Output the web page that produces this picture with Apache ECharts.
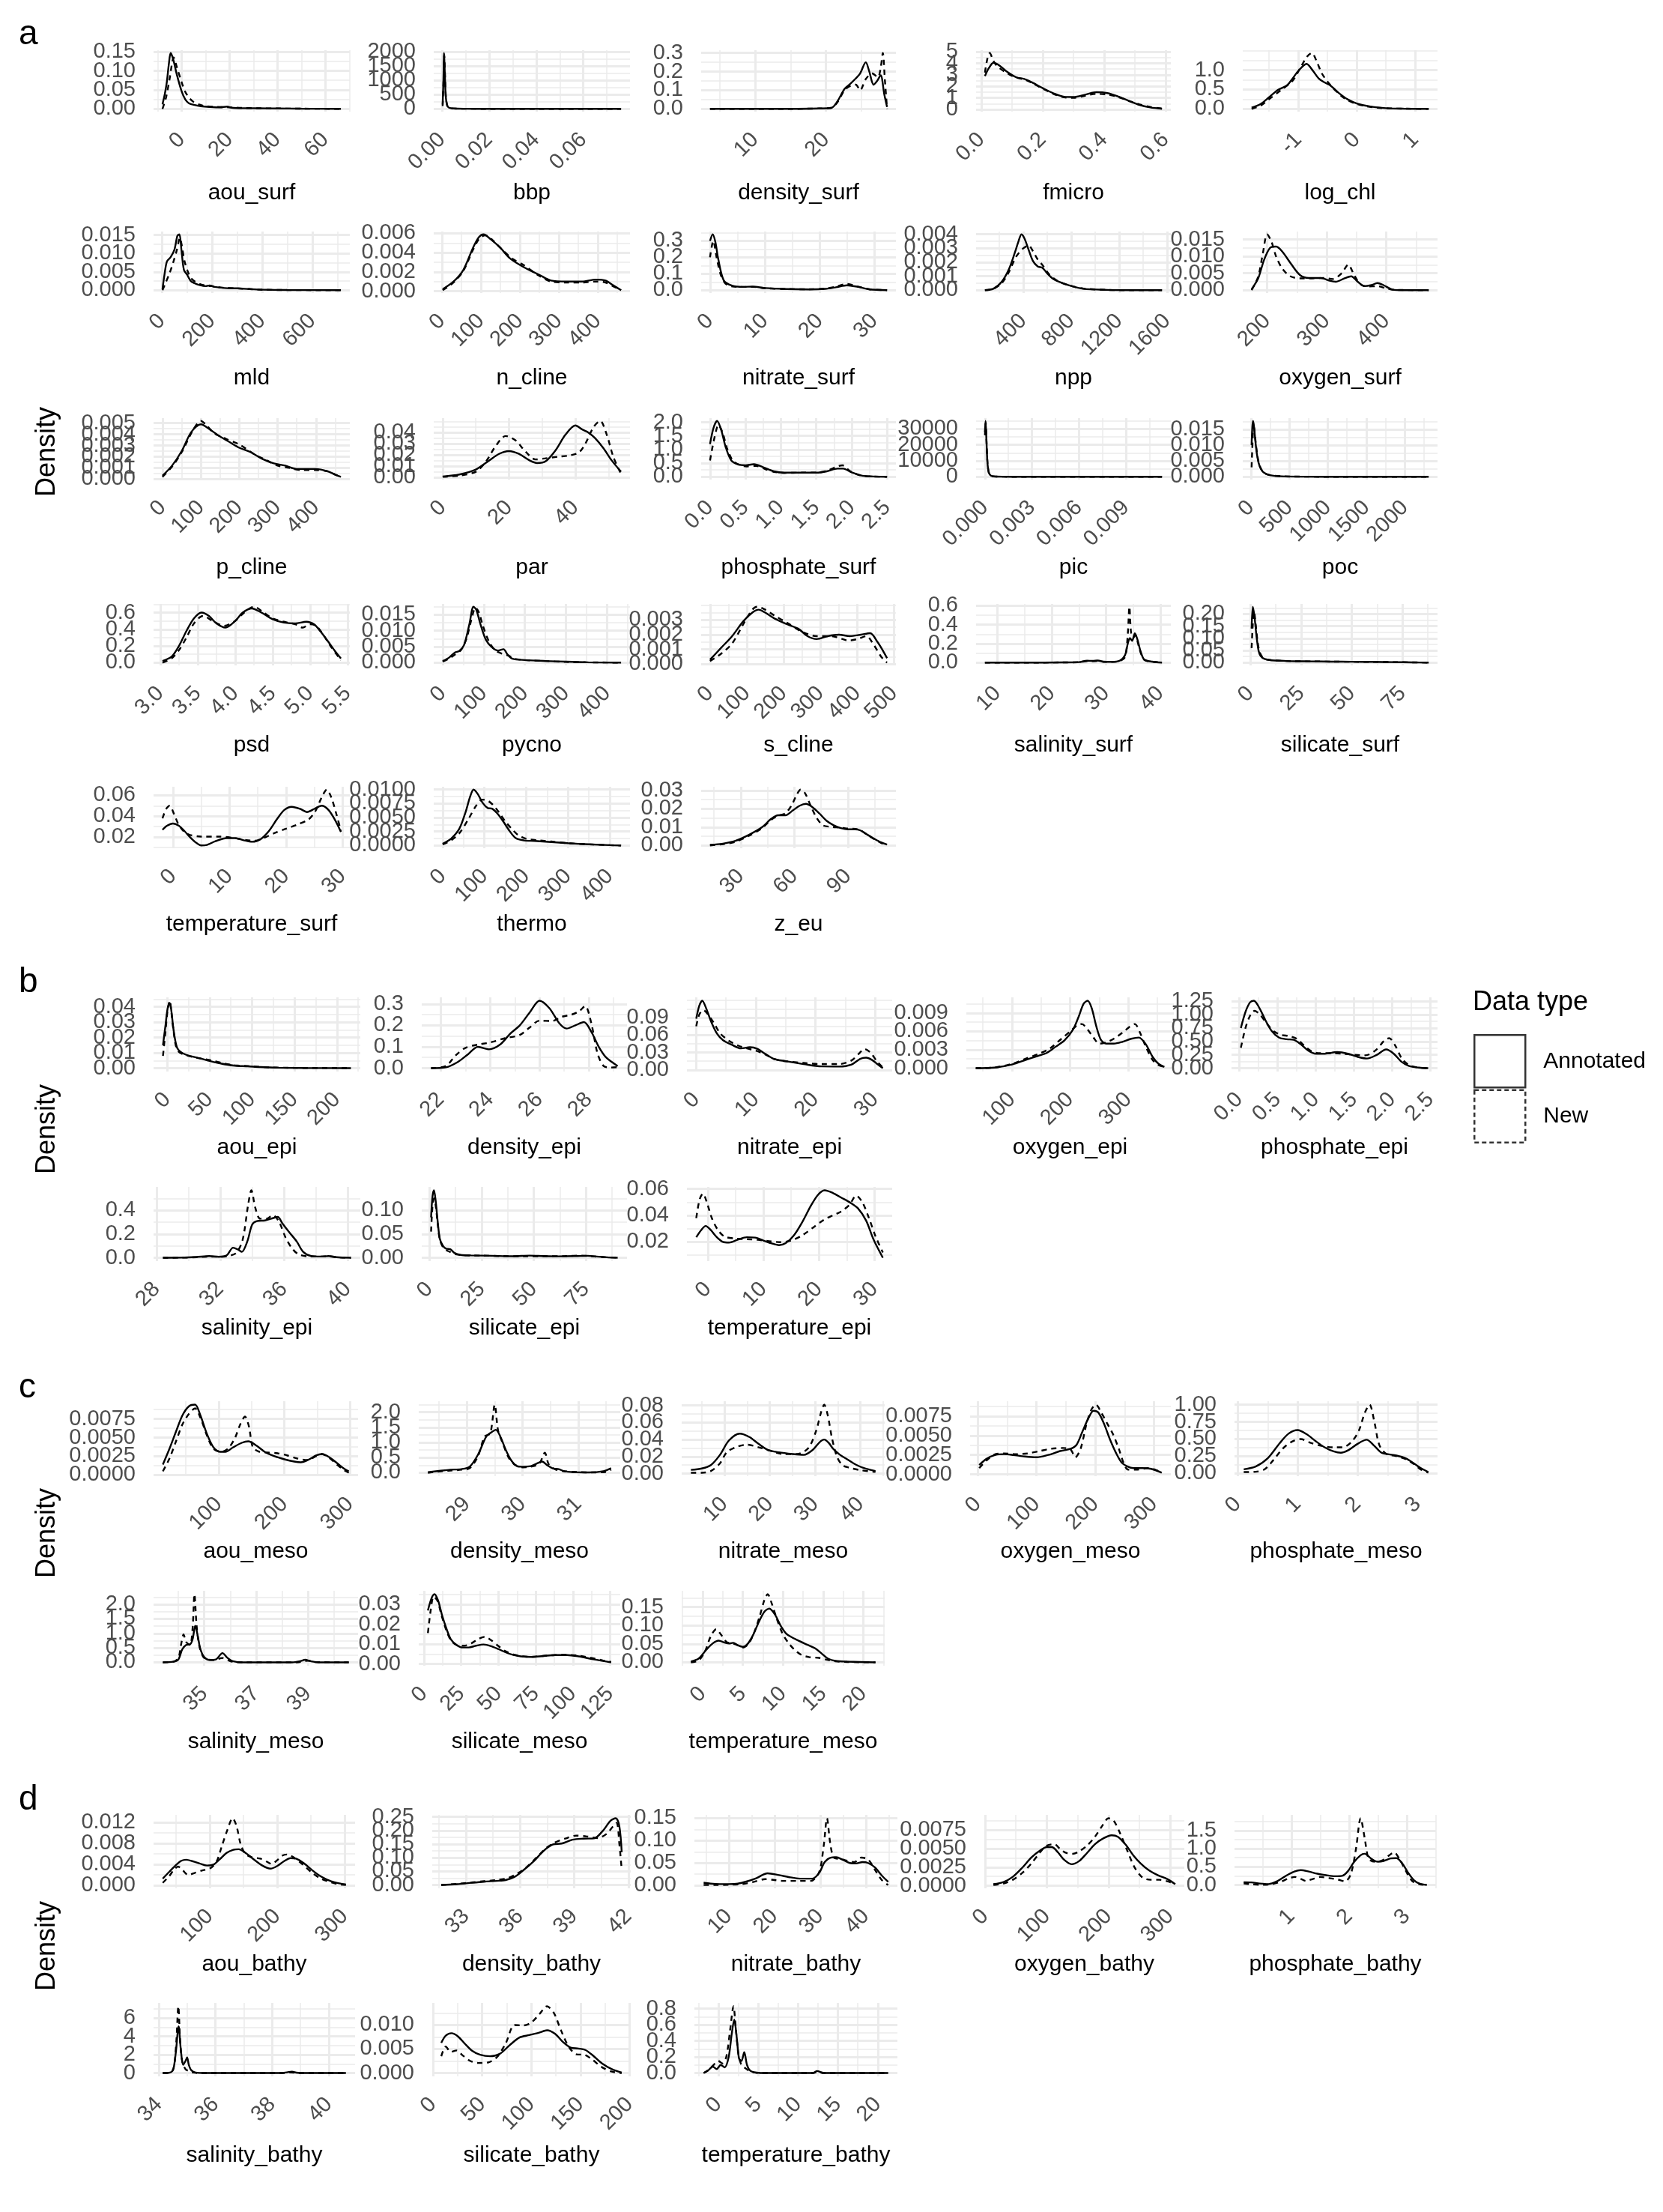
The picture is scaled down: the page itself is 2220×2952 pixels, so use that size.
<!DOCTYPE html>
<html>
<head>
<meta charset="utf-8">
<script src="https://cdn.jsdelivr.net/npm/echarts@6/dist/echarts.min.js"></script>
<style>
html,body{margin:0;padding:0;background:#ffffff;}
#chart{width:2220px;height:2952px;}
</style>
</head>
<body>
<div id="chart"></div>
<script>
// ---------------- DATA ----------------
const sectionA_vars = ['aou_surf','bbp','density_surf','fmicro','log_chl','mld','n_cline','nitrate_surf','npp','oxygen_surf','p_cline','par','phosphate_surf','pic','poc','psd','pycno','s_cline','salinity_surf','silicate_surf','temperature_surf','thermo','z_eu'];
const sectionB_vars = ['aou_epi','density_epi','nitrate_epi','oxygen_epi','phosphate_epi','salinity_epi','silicate_epi','temperature_epi'];
const sectionC_vars = ['aou_meso','density_meso','nitrate_meso','oxygen_meso','phosphate_meso','salinity_meso','silicate_meso','temperature_meso'];
const sectionD_vars = ['aou_bathy','density_bathy','nitrate_bathy','oxygen_bathy','phosphate_bathy','salinity_bathy','silicate_bathy','temperature_bathy'];
const seriesNames = ['Annotated','New'];

const aou_surf_annotated = [[-8,0.012],[-7,0.04],[-6.2,0.07],[-5.3,0.12],[-4.6,0.147],[-3.5,0.13],[-2,0.09],[0,0.046],[1.5,0.025],[3,0.015],[5.5,0.01],[8,0.007],[12,0.005],[16,0.004],[19,0.006],[21,0.003],[25,0.002],[32,0.0015],[40,0.001],[50,0.0005],[66.5,0.0001]];
const aou_surf_new = [[-8,0.0],[-6.5,0.03],[-5,0.08],[-3.3,0.135],[-2,0.11],[0,0.07],[1.5,0.045],[3,0.03],[5,0.018],[7,0.012],[10,0.007],[15,0.005],[20,0.004],[25,0.0025],[32,0.0015],[40,0.001],[50,0.0005],[66.5,0.0]];
const aou_surf_xticks = ['0','20','40','60'];
const aou_surf_yticks = ['0.00','0.05','0.10','0.15'];

const bbp_annotated = [[0.0003,150],[0.0006,900],[0.0009,1950],[0.0012,1300],[0.0016,450],[0.0022,120],[0.003,40],[0.005,12],[0.01,4],[0.02,2],[0.04,1],[0.06,0.5],[0.076,0]];
const bbp_new = [[0.0003,100],[0.0006,800],[0.001,1880],[0.0013,1200],[0.0017,400],[0.0023,100],[0.003,35],[0.005,10],[0.01,4],[0.02,2],[0.04,1],[0.06,0.5],[0.076,0]];
const bbp_xticks = ['0.00','0.02','0.04','0.06'];
const bbp_yticks = ['0','500','1000','1500','2000'];

const density_surf_annotated = [[3.66,0.0],[15,0.0],[19,0.002],[20.75,0.005],[21.6,0.04],[22.6,0.107],[23.3,0.13],[24.1,0.16],[24.8,0.19],[25.6,0.25],[26.1,0.2],[26.7,0.13],[27.2,0.15],[27.7,0.18],[28.2,0.08],[28.6,0.01]];
const density_surf_new = [[3.66,0.0],[15,0.0],[19,0.002],[20.75,0.005],[21.6,0.035],[22.6,0.1],[23.5,0.125],[24.2,0.13],[24.8,0.1],[25.6,0.16],[26.5,0.19],[27.3,0.17],[27.7,0.22],[28.0,0.3],[28.3,0.15],[28.6,0.0]];
const density_surf_xticks = ['10','20'];
const density_surf_yticks = ['0.0','0.1','0.2','0.3'];

const fmicro_annotated = [[0.012,2.9],[0.025,3.6],[0.04,4.05],[0.06,3.8],[0.085,3.25],[0.113,2.8],[0.14,2.65],[0.165,2.35],[0.2,1.85],[0.235,1.4],[0.27,1.1],[0.3,1.08],[0.34,1.3],[0.375,1.5],[0.41,1.42],[0.443,1.15],[0.48,0.75],[0.513,0.4],[0.55,0.17],[0.588,0.05]];
const fmicro_new = [[0.012,3.2],[0.02,4.4],[0.028,4.9],[0.038,4.3],[0.05,3.8],[0.075,3.3],[0.11,2.8],[0.14,2.6],[0.165,2.3],[0.2,1.8],[0.235,1.35],[0.27,1.05],[0.3,1.0],[0.34,1.2],[0.375,1.35],[0.41,1.3],[0.443,1.1],[0.48,0.75],[0.513,0.45],[0.55,0.22],[0.588,0.08]];
const fmicro_xticks = ['0.0','0.2','0.4','0.6'];
const fmicro_yticks = ['0','1','2','3','4','5'];

const log_chl_annotated = [[-1.8,0.03],[-1.65,0.12],[-1.5,0.3],[-1.35,0.49],[-1.2,0.6],[-1.1,0.78],[-1.0,0.98],[-0.86,1.16],[-0.75,0.98],[-0.65,0.78],[-0.55,0.68],[-0.45,0.6],[-0.3,0.4],[-0.15,0.24],[0,0.14],[0.25,0.055],[0.5,0.018],[0.8,0.004],[1.23,0.0]];
const log_chl_new = [[-1.8,0.0],[-1.65,0.08],[-1.5,0.25],[-1.3,0.48],[-1.1,0.72],[-0.95,1.1],[-0.85,1.35],[-0.77,1.44],[-0.68,1.2],[-0.6,0.92],[-0.5,0.7],[-0.35,0.45],[-0.2,0.26],[-0.05,0.15],[0.15,0.07],[0.35,0.03],[0.6,0.01],[1.23,0.0]];
const log_chl_xticks = ['-1','0','1'];
const log_chl_yticks = ['0.0','0.5','1.0'];

const mld_annotated = [[2.5,0.0003],[10,0.004],[20,0.0078],[35,0.009],[50,0.011],[62,0.0148],[70,0.0152],[78,0.011],[88,0.0055],[100,0.0043],[115,0.0025],[130,0.0019],[150,0.0014],[175,0.0011],[190,0.0013],[210,0.0009],[250,0.0006],[300,0.0005],[350,0.0003],[400,0.00015],[500,0.00005],[714,0.0]];
const mld_new = [[2.5,0.0],[15,0.002],[30,0.0045],[45,0.0075],[60,0.011],[72,0.0142],[80,0.012],[90,0.008],[105,0.0048],[120,0.003],[150,0.0017],[180,0.0012],[200,0.0011],[240,0.0007],[300,0.0005],[350,0.0003],[400,0.00012],[500,0.00004],[714,0.0]];
const mld_xticks = ['0','200','400','600'];
const mld_yticks = ['0.000','0.005','0.010','0.015'];

const n_cline_annotated = [[2,0.0002],[30,0.001],[55,0.0022],[80,0.0045],[95,0.0056],[107,0.0059],[125,0.0054],[150,0.0045],[175,0.0034],[210,0.0025],[250,0.0017],[280,0.0011],[320,0.001],[360,0.001],[395,0.0012],[420,0.0011],[440,0.0006],[460,0.0001]];
const n_cline_new = [[2,0.0001],[30,0.0009],[55,0.0021],[80,0.0043],[97,0.0055],[112,0.0058],[130,0.0053],[155,0.0043],[180,0.0034],[210,0.0027],[250,0.0016],[280,0.001],[320,0.0009],[360,0.0009],[395,0.001],[420,0.0009],[440,0.0005],[460,0.0001]];
const n_cline_xticks = ['0','100','200','300','400'];
const n_cline_yticks = ['0.000','0.002','0.004','0.006'];

const nitrate_surf_annotated = [[0,0.3],[0.5,0.34],[1,0.29],[1.5,0.19],[2.5,0.06],[4,0.028],[6,0.02],[7.8,0.022],[10,0.013],[14,0.007],[18,0.005],[21,0.008],[23,0.018],[25,0.03],[27,0.02],[29,0.006],[32.3,0.0]];
const nitrate_surf_new = [[0,0.2],[0.6,0.3],[1.2,0.2],[2,0.09],[3,0.035],[5,0.02],[7.8,0.02],[10,0.012],[14,0.007],[18,0.006],[21,0.01],[23,0.022],[25,0.038],[27,0.022],[29,0.006],[32.3,0.0]];
const nitrate_surf_xticks = ['0','10','20','30'];
const nitrate_surf_yticks = ['0.0','0.1','0.2','0.3'];

const npp_annotated = [[80,0.0],[150,0.0001],[220,0.0006],[280,0.0015],[330,0.0027],[360,0.0035],[385,0.004],[410,0.0037],[440,0.003],[480,0.0021],[520,0.0017],[560,0.0016],[600,0.0012],[650,0.0008],[700,0.0006],[800,0.0003],[900,0.0001],[1100,0.00002],[1300,0.0],[1557,0.0]];
const npp_new = [[80,0.0],[150,0.0001],[220,0.0005],[280,0.0013],[340,0.0024],[400,0.003],[444,0.0032],[480,0.0028],[520,0.0022],[560,0.0018],[620,0.0011],[700,0.0006],[800,0.0003],[900,0.00012],[1100,0.00002],[1300,0.0],[1557,0.0]];
const npp_xticks = ['400','800','1200','1600'];
const npp_yticks = ['0.000','0.001','0.002','0.003','0.004'];

const oxygen_surf_annotated = [[174,0.0003],[185,0.0035],[195,0.009],[205,0.0125],[215,0.0129],[225,0.0115],[240,0.0078],[255,0.0045],[270,0.0036],[290,0.0036],[305,0.0028],[315,0.0025],[330,0.0035],[341,0.0041],[352,0.0025],[363,0.0012],[375,0.0015],[385,0.0021],[395,0.0015],[410,0.0002],[430,0.0],[471,0.0]];
const oxygen_surf_new = [[174,0.0],[185,0.004],[193,0.011],[200,0.0165],[207,0.0145],[215,0.01],[225,0.0065],[238,0.0042],[255,0.0035],[275,0.0035],[295,0.0036],[310,0.0033],[325,0.005],[336,0.0075],[346,0.0045],[356,0.0018],[368,0.0011],[385,0.0012],[400,0.0005],[415,0.0001],[471,0.0]];
const oxygen_surf_xticks = ['200','300','400'];
const oxygen_surf_yticks = ['0.000','0.005','0.010','0.015'];

const p_cline_annotated = [[0,0.0003],[25,0.0012],[50,0.0025],[75,0.0042],[100,0.0049],[125,0.0044],[150,0.0038],[175,0.0033],[200,0.0028],[230,0.0024],[260,0.0018],[290,0.0014],[320,0.0012],[350,0.0009],[380,0.0009],[400,0.0009],[430,0.0007],[450,0.0004],[465,0.0002]];
const p_cline_new = [[0,0.0002],[25,0.0011],[50,0.0024],[80,0.0044],[100,0.0052],[112,0.0049],[135,0.0041],[165,0.0036],[200,0.0031],[240,0.0022],[270,0.0017],[300,0.0012],[330,0.001],[360,0.0008],[400,0.0008],[430,0.0007],[450,0.0004],[465,0.0002]];
const p_cline_xticks = ['0','100','200','300','400'];
const p_cline_yticks = ['0.000','0.001','0.002','0.003','0.004','0.005'];

const par_annotated = [[0,0.0008],[5,0.0025],[10,0.007],[14,0.015],[17,0.021],[20,0.0235],[23,0.021],[26,0.0155],[28.5,0.0128],[31,0.0142],[34,0.024],[37,0.038],[40,0.0465],[42,0.043],[44,0.04],[46,0.035],[48.5,0.026],[51,0.015],[53.8,0.005]];
const par_new = [[0,0.0005],[5,0.0015],[10,0.005],[13,0.014],[16,0.028],[19,0.037],[22,0.033],[25,0.023],[28,0.016],[31,0.017],[35,0.0185],[38,0.0195],[41,0.022],[43,0.03],[45.5,0.045],[47.5,0.0505],[49.5,0.038],[51.5,0.018],[53.8,0.003]];
const par_xticks = ['0','20','40'];
const par_yticks = ['0.00','0.01','0.02','0.03','0.04'];

const phosphate_surf_annotated = [[0.0,1.2],[0.05,1.8],[0.1,2.05],[0.16,1.7],[0.22,1.1],[0.3,0.6],[0.4,0.45],[0.5,0.42],[0.62,0.46],[0.75,0.35],[0.9,0.2],[1.05,0.15],[1.3,0.15],[1.5,0.15],[1.65,0.2],[1.8,0.3],[1.88,0.3],[2.0,0.16],[2.15,0.04],[2.3,0.01],[2.5,0.0]];
const phosphate_surf_new = [[0.0,0.6],[0.06,1.4],[0.12,1.9],[0.18,1.6],[0.24,1.05],[0.32,0.6],[0.42,0.43],[0.52,0.38],[0.65,0.4],[0.78,0.28],[0.9,0.18],[1.05,0.14],[1.3,0.15],[1.5,0.15],[1.65,0.22],[1.8,0.38],[1.87,0.42],[1.97,0.22],[2.12,0.05],[2.3,0.01],[2.5,0.0]];
const phosphate_surf_xticks = ['0.0','0.5','1.0','1.5','2.0','2.5'];
const phosphate_surf_yticks = ['0.0','0.5','1.0','1.5','2.0'];

const pic_annotated = [[0.0,28000],[0.00004,35000],[0.0001,22000],[0.00016,9000],[0.00025,2500],[0.0004,600],[0.0007,150],[0.0012,60],[0.002,30],[0.004,10],[0.008,3],[0.0113,0]];
const pic_new = [[0.0,26000],[0.00005,34000],[0.00011,20000],[0.00017,8000],[0.00026,2200],[0.0004,550],[0.0007,140],[0.0012,55],[0.002,28],[0.004,10],[0.008,3],[0.0113,0]];
const pic_xticks = ['0.000','0.003','0.006','0.009'];
const pic_yticks = ['0','10000','20000','30000'];

const poc_annotated = [[10,0.01],[20,0.016],[30,0.0177],[45,0.015],[60,0.011],[80,0.007],[100,0.0045],[130,0.0025],[170,0.0013],[250,0.0005],[400,0.00015],[700,0.00004],[1200,0.00001],[2310,0.0]];
const poc_new = [[10,0.003],[22,0.011],[35,0.017],[50,0.014],[65,0.0105],[85,0.0068],[105,0.0043],[135,0.0024],[175,0.0012],[250,0.0005],[400,0.00015],[700,0.00004],[1200,0.00001],[2310,0.0]];
const poc_xticks = ['0','500','1000','1500','2000'];
const poc_yticks = ['0.000','0.005','0.010','0.015'];

const psd_annotated = [[3.03,0.02],[3.15,0.07],[3.25,0.2],[3.35,0.38],[3.45,0.53],[3.55,0.6],[3.65,0.56],[3.75,0.47],[3.87,0.42],[4.0,0.5],[4.1,0.6],[4.22,0.65],[4.35,0.6],[4.5,0.52],[4.65,0.48],[4.8,0.47],[4.95,0.49],[5.05,0.46],[5.15,0.36],[5.25,0.24],[5.33,0.14],[5.41,0.05]];
const psd_new = [[3.03,0.0],[3.15,0.05],[3.25,0.15],[3.35,0.3],[3.45,0.47],[3.57,0.56],[3.7,0.5],[3.85,0.44],[4.0,0.5],[4.12,0.6],[4.25,0.67],[4.38,0.6],[4.5,0.53],[4.65,0.49],[4.8,0.46],[4.9,0.42],[5.0,0.46],[5.08,0.44],[5.17,0.34],[5.27,0.2],[5.41,0.03]];
const psd_xticks = ['3.0','3.5','4.0','4.5','5.0','5.5'];
const psd_yticks = ['0.0','0.2','0.4','0.6'];

const pycno_annotated = [[0,0.0005],[15,0.0015],[30,0.0032],[40,0.0036],[52,0.0055],[65,0.012],[75,0.0175],[82,0.0165],[92,0.012],[105,0.0072],[120,0.0048],[135,0.0038],[148,0.0042],[158,0.0025],[170,0.0012],[200,0.0008],[250,0.0005],[300,0.0003],[350,0.0001],[434,0.0]];
const pycno_new = [[0,0.0003],[15,0.0012],[30,0.0025],[45,0.004],[58,0.0075],[70,0.0135],[80,0.0172],[88,0.0158],[98,0.0115],[112,0.0068],[128,0.0038],[145,0.0028],[160,0.0022],[175,0.0012],[200,0.0008],[250,0.0005],[300,0.0002],[350,0.0001],[434,0.0]];
const pycno_xticks = ['0','100','200','300','400'];
const pycno_yticks = ['0.000','0.005','0.010','0.015'];

const s_cline_annotated = [[0,0.0003],[30,0.0011],[60,0.0019],[90,0.0029],[115,0.0035],[132,0.0037],[150,0.0035],[175,0.0031],[210,0.0027],[240,0.0024],[265,0.0019],[290,0.0017],[320,0.0019],[350,0.002],[380,0.0019],[410,0.002],[435,0.0021],[455,0.0015],[470,0.0009],[481,0.0004]];
const s_cline_new = [[0,0.0002],[30,0.0007],[60,0.0014],[90,0.0027],[115,0.0037],[128,0.0039],[150,0.0037],[175,0.0033],[210,0.0028],[250,0.0022],[290,0.0019],[330,0.0019],[360,0.0017],[375,0.0016],[400,0.0017],[425,0.0019],[445,0.0013],[465,0.0005],[481,0.0001]];
const s_cline_xticks = ['0','100','200','300','400','500'];
const s_cline_yticks = ['0.000','0.001','0.002','0.003'];

const salinity_surf_annotated = [[7.7,0.0],[15,0.0],[22,0.002],[25,0.005],[26.5,0.02],[27.5,0.018],[28.5,0.022],[29.5,0.01],[31,0.008],[32.5,0.02],[33.5,0.08],[34.0,0.2],[34.4,0.26],[34.8,0.23],[35.3,0.31],[35.8,0.24],[36.3,0.13],[36.9,0.04],[37.5,0.02],[38.5,0.01],[39.3,0.004],[40.3,0.0]];
const salinity_surf_new = [[7.7,0.0],[15,0.0],[22,0.002],[25,0.004],[26.5,0.016],[27.5,0.015],[28.5,0.018],[29.5,0.008],[31,0.007],[32.5,0.015],[33.5,0.06],[34.0,0.3],[34.3,0.59],[34.6,0.32],[35.0,0.26],[35.4,0.29],[35.9,0.2],[36.4,0.1],[37,0.03],[37.7,0.015],[38.8,0.008],[40.3,0.0]];
const salinity_surf_xticks = ['10','20','30','40'];
const salinity_surf_yticks = ['0.0','0.2','0.4','0.6'];

const silicate_surf_annotated = [[0.6,0.14],[1.2,0.23],[2,0.19],[3,0.11],[4,0.05],[5,0.028],[7,0.015],[10,0.01],[15,0.008],[20,0.006],[30,0.005],[40,0.004],[50,0.0035],[60,0.003],[70,0.002],[80,0.001],[87.9,0.0]];
const silicate_surf_new = [[0.6,0.06],[1.2,0.16],[1.8,0.21],[2.6,0.16],[3.5,0.09],[4.5,0.045],[6,0.022],[8,0.013],[12,0.009],[20,0.006],[30,0.005],[40,0.004],[50,0.0035],[60,0.003],[70,0.002],[80,0.001],[87.9,0.0]];
const silicate_surf_xticks = ['0','25','50','75'];
const silicate_surf_yticks = ['0.00','0.05','0.10','0.15','0.20'];

const temperature_surf_annotated = [[-1.85,0.027],[-1,0.031],[0,0.033],[1,0.031],[2,0.026],[3,0.02],[4,0.015],[5,0.012],[6,0.0125],[7.5,0.016],[9.5,0.019],[11,0.019],[12.5,0.017],[14,0.0155],[15.5,0.018],[17,0.026],[18.5,0.038],[19.7,0.046],[21,0.049],[22.5,0.047],[23.7,0.044],[25,0.047],[26.3,0.05],[27.5,0.046],[28.7,0.036],[29.7,0.025]];
const temperature_surf_new = [[-1.85,0.038],[-1.2,0.047],[-0.6,0.05],[0.2,0.042],[1,0.032],[2,0.025],[3,0.022],[5,0.0205],[8,0.0205],[11,0.019],[13,0.017],[14.5,0.0165],[16,0.019],[18,0.024],[20,0.028],[22,0.032],[24,0.037],[25.2,0.045],[26.3,0.058],[27.2,0.0655],[28,0.058],[28.9,0.042],[29.7,0.026]];
const temperature_surf_xticks = ['0','10','20','30'];
const temperature_surf_yticks = ['0.00','0.02','0.04','0.06'];

const thermo_annotated = [[0,0.0003],[20,0.0012],[40,0.003],[55,0.006],[66,0.0088],[74,0.01],[84,0.0092],[96,0.0076],[108,0.0067],[118,0.0066],[130,0.0058],[145,0.0043],[160,0.0026],[175,0.0013],[195,0.0009],[220,0.0008],[260,0.0006],[300,0.0004],[350,0.0002],[400,0.00005],[427,0.0]];
const thermo_new = [[0,0.0002],[20,0.0009],[40,0.0022],[60,0.0045],[80,0.0071],[95,0.0082],[108,0.008],[120,0.0073],[135,0.0059],[150,0.0043],[165,0.003],[180,0.0019],[200,0.0012],[230,0.0009],[260,0.0007],[300,0.0004],[350,0.0002],[400,0.00005],[427,0.0]];
const thermo_xticks = ['0','100','200','300','400'];
const thermo_yticks = ['0.0000','0.0025','0.0050','0.0075','0.0100'];

const z_eu_annotated = [[12.8,0.0003],[20,0.001],[27,0.0025],[35,0.006],[42,0.01],[47,0.0145],[51,0.0165],[55,0.0165],[59,0.019],[63,0.0217],[66.5,0.0227],[70,0.021],[74,0.0175],[78,0.0135],[82,0.011],[86,0.0095],[90,0.0088],[94,0.0088],[97,0.0082],[101,0.0058],[105,0.0035],[108.5,0.0017],[111.9,0.0005]];
const z_eu_new = [[12.8,0.0],[20,0.0007],[27,0.002],[35,0.0055],[42,0.0095],[47,0.014],[51,0.0163],[55,0.0175],[58.5,0.022],[61.5,0.028],[63.5,0.0305],[66,0.0285],[69,0.022],[72.5,0.015],[76,0.011],[80,0.0102],[86,0.0097],[90,0.0092],[94,0.009],[97,0.0083],[101,0.0057],[105,0.0033],[108.5,0.0014],[111.9,0.0003]];
const z_eu_xticks = ['30','60','90'];
const z_eu_yticks = ['0.00','0.01','0.02','0.03'];

const aou_epi_annotated = [[-5,0.015],[-2,0.028],[0.5,0.039],[3,0.0425],[5,0.037],[7,0.027],[9.5,0.018],[12,0.013],[16,0.0105],[22,0.0088],[30,0.0075],[40,0.0062],[50,0.0047],[60,0.0034],[70,0.0023],[80,0.0016],[95,0.0012],[110,0.0007],[130,0.0003],[160,0.0001],[216.5,0.0]];
const aou_epi_new = [[-5,0.008],[-2,0.024],[0.5,0.038],[3,0.044],[5,0.036],[7.5,0.024],[10,0.015],[13,0.011],[18,0.0092],[25,0.008],[35,0.0068],[45,0.0058],[55,0.0047],[65,0.0033],[80,0.0019],[100,0.0012],[120,0.0005],[150,0.0002],[216.5,0.0]];
const aou_epi_xticks = ['0','50','100','150','200'];
const aou_epi_yticks = ['0.00','0.01','0.02','0.03','0.04'];

const density_epi_annotated = [[21.6,0.0],[22.2,0.004],[22.7,0.03],[23.1,0.065],[23.5,0.1],[23.95,0.088],[24.4,0.11],[24.8,0.16],[25.2,0.2],[25.6,0.26],[26.0,0.315],[26.4,0.28],[26.8,0.21],[27.1,0.185],[27.45,0.2],[27.8,0.215],[28.1,0.17],[28.4,0.1],[28.7,0.05],[29.17,0.01]];
const density_epi_new = [[21.6,0.0],[22.2,0.01],[22.6,0.06],[23.0,0.095],[23.5,0.11],[24.0,0.12],[24.6,0.14],[25.2,0.155],[25.6,0.19],[26.0,0.222],[26.5,0.22],[26.9,0.24],[27.3,0.25],[27.6,0.265],[27.85,0.29],[28.1,0.21],[28.35,0.07],[28.6,0.01],[28.9,0.003],[29.17,0.005]];
const density_epi_xticks = ['22','24','26','28'];
const density_epi_yticks = ['0.0','0.1','0.2','0.3'];

const nitrate_epi_annotated = [[0,0.088],[0.5,0.11],[1,0.119],[1.7,0.105],[2.5,0.083],[3.5,0.062],[4.5,0.051],[6,0.043],[7.5,0.037],[9,0.039],[10.3,0.036],[11.5,0.028],[13,0.019],[15,0.015],[18,0.01],[21,0.006],[24,0.0058],[26,0.009],[27.5,0.019],[28.5,0.021],[29.5,0.017],[30.5,0.009],[31.3,0.003]];
const nitrate_epi_new = [[0,0.075],[0.5,0.095],[1.2,0.103],[2,0.095],[3,0.08],[4,0.063],[5.5,0.05],[7,0.042],[8.5,0.037],[10,0.033],[11.5,0.027],[13,0.019],[15,0.015],[18,0.012],[21,0.01],[24,0.01],[26,0.016],[27.3,0.028],[28.2,0.036],[29.2,0.03],[30.3,0.015],[31.3,0.004]];
const nitrate_epi_xticks = ['0','10','20','30'];
const nitrate_epi_yticks = ['0.00','0.03','0.06','0.09'];

const oxygen_epi_annotated = [[37.7,0.0],[70,0.0001],[100,0.0006],[125,0.0014],[145,0.002],[160,0.0025],[175,0.0035],[190,0.0045],[205,0.0063],[215,0.0085],[223,0.0105],[230,0.011],[237,0.0098],[245,0.0068],[253,0.0046],[262,0.004],[275,0.004],[290,0.0043],[305,0.0048],[318,0.005],[330,0.0039],[342,0.0018],[352,0.0007],[362,0.0002]];
const oxygen_epi_new = [[37.7,0.0],[70,0.0001],[100,0.0007],[125,0.0016],[145,0.0023],[165,0.0032],[185,0.0048],[200,0.006],[212,0.007],[220,0.0072],[230,0.0063],[240,0.005],[250,0.004],[262,0.0042],[275,0.0048],[290,0.0058],[303,0.0068],[311,0.0072],[320,0.0058],[330,0.0035],[342,0.0013],[352,0.0005],[362,0.0002]];
const oxygen_epi_xticks = ['100','200','300'];
const oxygen_epi_yticks = ['0.000','0.003','0.006','0.009'];

const phosphate_epi_annotated = [[0.02,0.75],[0.08,1.05],[0.14,1.23],[0.19,1.26],[0.26,1.13],[0.34,0.9],[0.42,0.7],[0.52,0.57],[0.62,0.54],[0.71,0.53],[0.8,0.45],[0.9,0.33],[1.0,0.27],[1.12,0.27],[1.28,0.3],[1.42,0.27],[1.55,0.21],[1.67,0.18],[1.8,0.25],[1.92,0.35],[2.02,0.27],[2.12,0.12],[2.22,0.04],[2.35,0.01],[2.47,0.0]];
const phosphate_epi_new = [[0.02,0.38],[0.08,0.75],[0.14,0.98],[0.2,1.07],[0.27,1.0],[0.35,0.85],[0.45,0.69],[0.55,0.62],[0.65,0.6],[0.75,0.55],[0.85,0.42],[0.95,0.31],[1.05,0.28],[1.2,0.28],[1.35,0.27],[1.5,0.25],[1.65,0.24],[1.78,0.33],[1.9,0.52],[1.96,0.56],[2.04,0.42],[2.13,0.17],[2.23,0.05],[2.35,0.01],[2.47,0.0]];
const phosphate_epi_xticks = ['0.0','0.5','1.0','1.5','2.0','2.5'];
const phosphate_epi_yticks = ['0.00','0.25','0.50','0.75','1.00','1.25'];

const salinity_epi_annotated = [[28.4,0.0],[29.5,0.001],[30.5,0.006],[31.3,0.014],[31.9,0.008],[32.4,0.02],[32.8,0.085],[33.1,0.07],[33.35,0.05],[33.7,0.14],[34.0,0.28],[34.3,0.31],[34.8,0.315],[35.2,0.33],[35.6,0.345],[35.9,0.29],[36.3,0.22],[36.8,0.137],[37.2,0.05],[37.7,0.015],[38.3,0.01],[38.8,0.014],[39.3,0.005],[40.2,0.0]];
const salinity_epi_new = [[28.4,0.0],[29.5,0.001],[30.5,0.004],[31.3,0.01],[32.0,0.008],[32.5,0.015],[33.0,0.04],[33.4,0.15],[33.75,0.45],[33.95,0.57],[34.2,0.42],[34.5,0.33],[34.9,0.33],[35.3,0.36],[35.7,0.3],[36.1,0.17],[36.5,0.08],[36.9,0.03],[37.5,0.012],[38.3,0.01],[38.8,0.012],[39.3,0.004],[40.2,0.0]];
const salinity_epi_xticks = ['28','32','36','40'];
const salinity_epi_yticks = ['0.0','0.2','0.4'];

const silicate_epi_annotated = [[0.8,0.085],[1.5,0.13],[2.2,0.142],[3,0.12],[4,0.075],[5,0.04],[6.5,0.025],[8,0.019],[10,0.018],[12,0.01],[15,0.006],[20,0.005],[30,0.0042],[40,0.0032],[48,0.0045],[55,0.0035],[62,0.003],[70,0.0035],[76,0.0042],[80,0.0025],[85,0.001],[90.2,0.0]];
const silicate_epi_new = [[0.8,0.055],[1.5,0.11],[2.2,0.125],[3,0.11],[4,0.07],[5,0.038],[6.5,0.022],[8,0.016],[10,0.012],[13,0.007],[18,0.005],[25,0.0045],[35,0.0035],[45,0.003],[55,0.0032],[65,0.0035],[73,0.0045],[78,0.003],[84,0.0012],[90.2,0.0]];
const silicate_epi_xticks = ['0','25','50','75'];
const silicate_epi_yticks = ['0.00','0.05','0.10'];

const temperature_epi_annotated = [[-2.1,0.0235],[-1.2,0.029],[-0.4,0.032],[0.5,0.029],[1.5,0.024],[2.7,0.02],[3.8,0.0195],[5.3,0.0215],[7,0.0235],[8.5,0.0232],[10,0.021],[11.5,0.0188],[12.8,0.0175],[14,0.019],[15.5,0.025],[17,0.035],[18.5,0.047],[19.8,0.0555],[21,0.059],[22.5,0.057],[24,0.0535],[25.5,0.05],[27,0.0455],[28.5,0.036],[29.8,0.022],[31.5,0.008]];
const temperature_epi_new = [[-2.1,0.038],[-1.5,0.052],[-0.9,0.0565],[-0.2,0.05],[0.7,0.038],[1.8,0.029],[3,0.024],[5,0.0225],[7,0.022],[9,0.0215],[11,0.0205],[13,0.0198],[15,0.021],[17,0.025],[19,0.031],[21,0.037],[22.5,0.04],[24,0.043],[25.5,0.048],[26.7,0.055],[27.8,0.05],[29,0.038],[30.2,0.024],[31.5,0.012]];
const temperature_epi_xticks = ['0','10','20','30'];
const temperature_epi_yticks = ['0.00','0.02','0.04','0.06'];

const aou_meso_annotated = [[15,0.0014],[25,0.0035],[35,0.0058],[45,0.008],[55,0.0092],[64,0.0094],[72,0.008],[82,0.0055],[92,0.0037],[102,0.0031],[110,0.0031],[122,0.0037],[135,0.0043],[145,0.0045],[158,0.0039],[170,0.0031],[185,0.0025],[200,0.0021],[215,0.0018],[225,0.0017],[238,0.0021],[248,0.0026],[257,0.0028],[268,0.0024],[280,0.0016],[290,0.0009],[298,0.0005]];
const aou_meso_new = [[15,0.0005],[25,0.0022],[35,0.0045],[45,0.0068],[55,0.0082],[64,0.0089],[72,0.0077],[82,0.0053],[92,0.0035],[104,0.0031],[115,0.0036],[125,0.005],[133,0.0068],[140,0.0078],[146,0.0065],[152,0.0037],[162,0.0031],[175,0.003],[190,0.0029],[205,0.0026],[220,0.0022],[235,0.002],[248,0.0025],[257,0.0028],[268,0.0023],[280,0.0014],[290,0.0007],[298,0.0003]];
const aou_meso_xticks = ['100','200','300'];
const aou_meso_yticks = ['0.0000','0.0025','0.0050','0.0075'];

const density_meso_annotated = [[28.3,0.02],[28.5,0.06],[28.7,0.1],[28.9,0.12],[29.05,0.2],[29.2,0.6],[29.35,1.2],[29.45,1.35],[29.52,1.42],[29.6,1.2],[29.7,0.75],[29.8,0.4],[29.9,0.22],[30.0,0.2],[30.15,0.22],[30.25,0.3],[30.35,0.37],[30.45,0.24],[30.55,0.14],[30.65,0.12],[30.75,0.05],[30.9,0.02],[31.2,0.01],[31.45,0.05],[31.59,0.15]];
const density_meso_new = [[28.3,0.0],[28.5,0.04],[28.7,0.07],[28.9,0.1],[29.05,0.15],[29.2,0.55],[29.32,1.2],[29.42,1.3],[29.5,2.25],[29.56,1.4],[29.65,0.95],[29.75,0.5],[29.85,0.28],[30.0,0.18],[30.15,0.2],[30.3,0.3],[30.4,0.66],[30.47,0.28],[30.6,0.1],[30.75,0.05],[31.0,0.02],[31.3,0.01],[31.5,0.03],[31.59,0.1]];
const density_meso_xticks = ['29','30','31'];
const density_meso_yticks = ['0.0','0.5','1.0','1.5','2.0'];

const nitrate_meso_annotated = [[2.6,0.0044],[5,0.006],[7,0.01],[9,0.022],[11,0.039],[13.4,0.047],[15.5,0.043],[17.5,0.035],[19.5,0.028],[22,0.025],[25,0.023],[27.5,0.022],[29.5,0.028],[31,0.037],[32,0.04],[33,0.036],[34,0.029],[35.5,0.022],[37,0.017],[38.5,0.012],[40.5,0.007],[43.3,0.003]];
const nitrate_meso_new = [[2.6,0.001],[5,0.001],[7,0.003],[9,0.012],[10.5,0.025],[12.5,0.031],[15,0.034],[17.5,0.031],[20,0.027],[23,0.023],[26,0.023],[28.5,0.03],[30.2,0.05],[31.3,0.072],[32,0.081],[32.8,0.068],[33.7,0.042],[34.8,0.02],[36,0.01],[37.5,0.007],[40,0.004],[43.3,0.002]];
const nitrate_meso_xticks = ['10','20','30','40'];
const nitrate_meso_yticks = ['0.00','0.02','0.04','0.06','0.08'];

const oxygen_meso_annotated = [[2.5,0.0012],[15,0.002],[30,0.0025],[45,0.0026],[60,0.0025],[80,0.0023],[100,0.0022],[120,0.0025],[140,0.003],[158,0.0033],[168,0.0038],[178,0.0055],[188,0.0072],[197,0.0082],[205,0.008],[215,0.0065],[225,0.0045],[235,0.0028],[245,0.0015],[255,0.001],[265,0.0008],[280,0.0008],[295,0.0007],[313,0.0002]];
const oxygen_meso_new = [[2.5,0.0008],[15,0.0018],[30,0.0026],[45,0.0027],[65,0.0026],[85,0.0027],[105,0.003],[125,0.0033],[145,0.0034],[158,0.0032],[166,0.0022],[175,0.0033],[185,0.0065],[193,0.0083],[201,0.009],[210,0.008],[220,0.0066],[230,0.0052],[240,0.0033],[248,0.0015],[256,0.0006],[270,0.0006],[290,0.0008],[302,0.0006],[313,0.0002]];
const oxygen_meso_xticks = ['0','100','200','300'];
const oxygen_meso_yticks = ['0.0000','0.0025','0.0050','0.0075'];

const phosphate_meso_annotated = [[0.1,0.06],[0.3,0.1],[0.5,0.22],[0.7,0.44],[0.85,0.58],[1.0,0.63],[1.15,0.57],[1.3,0.47],[1.45,0.38],[1.6,0.32],[1.72,0.3],[1.85,0.34],[2.0,0.43],[2.15,0.49],[2.28,0.4],[2.4,0.3],[2.5,0.28],[2.65,0.26],[2.8,0.22],[2.95,0.14],[3.05,0.08],[3.18,0.02]];
const phosphate_meso_new = [[0.1,0.02],[0.3,0.025],[0.45,0.06],[0.6,0.2],[0.75,0.36],[0.9,0.46],[1.05,0.5],[1.2,0.45],[1.4,0.4],[1.6,0.38],[1.75,0.38],[1.9,0.46],[2.02,0.62],[2.12,0.88],[2.2,1.0],[2.28,0.75],[2.36,0.42],[2.47,0.29],[2.65,0.25],[2.8,0.21],[2.95,0.13],[3.05,0.06],[3.18,0.01]];
const phosphate_meso_xticks = ['0','1','2','3'];
const phosphate_meso_yticks = ['0.00','0.25','0.50','0.75','1.00'];

const salinity_meso_annotated = [[33.4,0.0],[33.8,0.02],[34.0,0.1],[34.15,0.45],[34.3,0.6],[34.45,0.62],[34.55,0.8],[34.65,1.26],[34.75,0.9],[34.85,0.45],[35.0,0.18],[35.2,0.08],[35.45,0.1],[35.7,0.32],[35.9,0.15],[36.1,0.04],[36.5,0.0],[38.4,0.0],[38.7,0.04],[38.9,0.09],[39.1,0.04],[39.4,0.0],[40.58,0.0]];
const salinity_meso_new = [[33.4,0.0],[33.8,0.02],[34.0,0.15],[34.1,0.6],[34.2,0.96],[34.3,0.7],[34.45,0.6],[34.55,1.2],[34.62,2.35],[34.7,1.3],[34.8,0.6],[34.95,0.2],[35.1,0.1],[35.4,0.08],[35.7,0.15],[35.9,0.08],[36.1,0.02],[36.5,0.0],[38.6,0.0],[38.9,0.05],[39.1,0.06],[39.3,0.01],[40.58,0.0]];
const salinity_meso_xticks = ['35','37','39'];
const salinity_meso_yticks = ['0.0','0.5','1.0','1.5','2.0'];

const silicate_meso_annotated = [[2.65,0.027],[5,0.033],[7,0.0352],[9.5,0.032],[12,0.025],[15,0.018],[18,0.0125],[22,0.0095],[26,0.0083],[30,0.0083],[35,0.0092],[40,0.0098],[45,0.009],[50,0.0075],[55,0.0058],[60,0.0045],[65,0.0038],[72,0.0035],[80,0.004],[88,0.0045],[96,0.0045],[104,0.0038],[112,0.0026],[120,0.0015],[125.6,0.0008]];
const silicate_meso_new = [[2.65,0.0156],[4.5,0.027],[6.5,0.034],[9,0.032],[12,0.024],[15,0.017],[18,0.012],[22,0.0095],[27,0.0092],[32,0.0105],[37,0.0128],[41,0.0137],[45,0.012],[50,0.009],[55,0.0063],[60,0.0048],[66,0.0038],[73,0.0036],[80,0.004],[88,0.0045],[96,0.0046],[104,0.0041],[112,0.0031],[120,0.0018],[125.6,0.001]];
const silicate_meso_xticks = ['0','25','50','75','100','125'];
const silicate_meso_yticks = ['0.00','0.01','0.02','0.03'];

const temperature_meso_annotated = [[-1.45,0.002],[-0.5,0.01],[0.5,0.035],[1.3,0.052],[2.0,0.059],[2.7,0.054],[3.3,0.051],[3.8,0.053],[4.4,0.046],[5.0,0.042],[5.6,0.05],[6.3,0.075],[7.0,0.11],[7.7,0.138],[8.3,0.146],[9.0,0.13],[9.7,0.1],[10.4,0.078],[11.1,0.068],[12,0.058],[13,0.048],[14,0.038],[14.8,0.024],[15.6,0.01],[16.5,0.004],[18,0.002],[21.5,0.0]];
const temperature_meso_new = [[-1.45,0.0],[-0.5,0.005],[0.3,0.03],[1.0,0.07],[1.7,0.09],[2.3,0.075],[3.0,0.055],[3.6,0.052],[4.3,0.047],[5.0,0.04],[5.7,0.05],[6.4,0.08],[7.1,0.125],[7.7,0.17],[8.1,0.185],[8.6,0.16],[9.2,0.12],[9.9,0.08],[10.6,0.055],[11.4,0.035],[12.3,0.02],[13.3,0.014],[14.5,0.012],[15.5,0.007],[16.5,0.003],[18,0.001],[21.5,0.0]];
const temperature_meso_xticks = ['0','5','10','15','20'];
const temperature_meso_yticks = ['0.00','0.05','0.10','0.15'];

const aou_bathy_annotated = [[30.3,0.0013],[40,0.0026],[50,0.0039],[58,0.0047],[65,0.0049],[75,0.0046],[85,0.0042],[96,0.0038],[106,0.004],[115,0.005],[125,0.0062],[135,0.0068],[143,0.0069],[152,0.0063],[165,0.005],[178,0.0038],[190,0.0032],[200,0.0037],[210,0.0046],[220,0.0052],[228,0.0051],[240,0.0042],[252,0.0029],[265,0.0017],[280,0.0008],[292,0.0004],[302,0.0002]];
const aou_bathy_new = [[30.3,0.0005],[40,0.0018],[47,0.003],[53,0.0036],[60,0.0029],[68,0.002],[78,0.0024],[90,0.0029],[100,0.0032],[110,0.0045],[118,0.0075],[126,0.0105],[134,0.0128],[140,0.0112],[146,0.0078],[153,0.006],[162,0.0054],[175,0.0051],[185,0.0045],[192,0.0041],[200,0.0048],[208,0.0057],[215,0.0059],[225,0.0053],[238,0.004],[252,0.0024],[265,0.0013],[280,0.0006],[292,0.0002],[302,0.0001]];
const aou_bathy_xticks = ['100','200','300'];
const aou_bathy_yticks = ['0.000','0.004','0.008','0.012'];

const density_bathy_annotated = [[31.63,0.0],[32.5,0.003],[33.3,0.008],[34,0.012],[34.7,0.015],[35.2,0.018],[35.7,0.03],[36.2,0.055],[36.8,0.09],[37.3,0.125],[37.8,0.148],[38.3,0.152],[38.9,0.166],[39.5,0.17],[40.1,0.171],[40.6,0.2],[41.0,0.235],[41.3,0.245],[41.5,0.215],[41.63,0.12]];
const density_bathy_new = [[31.63,0.0],[32.5,0.004],[33.3,0.009],[34,0.014],[34.7,0.018],[35.3,0.025],[35.8,0.04],[36.3,0.062],[36.9,0.1],[37.4,0.133],[37.9,0.155],[38.5,0.17],[39.1,0.181],[39.7,0.178],[40.3,0.172],[40.8,0.188],[41.15,0.215],[41.35,0.228],[41.5,0.15],[41.63,0.055]];
const density_bathy_xticks = ['33','36','39','42'];
const density_bathy_yticks = ['0.00','0.05','0.10','0.15','0.20','0.25'];

const nitrate_bathy_annotated = [[4.5,0.006],[6,0.004],[8,0.003],[10,0.003],[12,0.004],[14,0.009],[16,0.016],[18.5,0.027],[21,0.023],[23.5,0.018],[26,0.015],[28.3,0.015],[29.8,0.028],[31,0.052],[32.3,0.062],[33.5,0.063],[35,0.057],[36.5,0.05],[37.8,0.049],[39.3,0.052],[40.5,0.05],[42,0.04],[43.5,0.022],[44.9,0.008]];
const nitrate_bathy_new = [[4.5,0.001],[7,0.001],[10,0.0015],[13,0.003],[15.5,0.008],[18,0.014],[20,0.012],[22,0.01],[25,0.01],[28,0.01],[29.8,0.03],[30.8,0.09],[31.5,0.15],[32.2,0.095],[33.0,0.062],[34.5,0.059],[36,0.055],[37.5,0.052],[39,0.062],[40.5,0.058],[42,0.035],[43.5,0.012],[44.9,0.001]];
const nitrate_bathy_xticks = ['10','20','30','40'];
const nitrate_bathy_yticks = ['0.00','0.05','0.10','0.15'];

const oxygen_bathy_annotated = [[13.5,0.0002],[30,0.0005],[45,0.0012],[60,0.0024],[75,0.0038],[90,0.0048],[100,0.0052],[108,0.0052],[118,0.0045],[128,0.0035],[140,0.0029],[152,0.0033],[165,0.0044],[178,0.0056],[192,0.0064],[205,0.0068],[215,0.0066],[228,0.0055],[240,0.0041],[252,0.003],[265,0.0021],[280,0.0014],[295,0.0009],[308,0.0002]];
const oxygen_bathy_new = [[13.5,0.0001],[30,0.0003],[45,0.0008],[60,0.0017],[75,0.003],[90,0.0046],[100,0.0054],[112,0.0056],[122,0.0049],[132,0.0044],[142,0.0043],[152,0.0046],[165,0.0054],[178,0.0066],[190,0.0081],[200,0.0091],[208,0.0088],[218,0.0072],[230,0.0048],[242,0.0025],[255,0.0011],[268,0.0008],[282,0.0008],[295,0.0006],[308,0.0002]];
const oxygen_bathy_xticks = ['0','100','200','300'];
const oxygen_bathy_yticks = ['0.0000','0.0025','0.0050','0.0075'];

const phosphate_bathy_annotated = [[0.17,0.075],[0.3,0.07],[0.45,0.04],[0.6,0.025],[0.75,0.1],[0.9,0.25],[1.05,0.37],[1.16,0.41],[1.3,0.37],[1.45,0.31],[1.6,0.27],[1.75,0.24],[1.88,0.25],[1.98,0.38],[2.08,0.62],[2.2,0.82],[2.27,0.86],[2.38,0.73],[2.5,0.64],[2.6,0.66],[2.72,0.73],[2.82,0.74],[2.92,0.6],[3.02,0.35],[3.12,0.14],[3.22,0.04],[3.35,0.0]];
const phosphate_bathy_new = [[0.17,0.04],[0.3,0.02],[0.45,0.005],[0.6,0.01],[0.8,0.08],[0.95,0.18],[1.06,0.22],[1.16,0.17],[1.25,0.11],[1.38,0.17],[1.5,0.22],[1.65,0.19],[1.8,0.15],[1.93,0.1],[2.03,0.3],[2.12,1.0],[2.2,1.84],[2.27,1.3],[2.34,0.72],[2.45,0.64],[2.58,0.68],[2.7,0.82],[2.78,0.9],[2.88,0.7],[2.98,0.4],[3.1,0.1],[3.22,0.02],[3.35,0.0]];
const phosphate_bathy_xticks = ['1','2','3'];
const phosphate_bathy_yticks = ['0.0','0.5','1.0','1.5'];

const salinity_bathy_annotated = [[34.14,0.0],[34.35,0.02],[34.5,0.3],[34.6,2.2],[34.7,5.1],[34.78,2.5],[34.86,0.9],[34.94,1.3],[35.0,1.7],[35.06,0.9],[35.15,0.3],[35.3,0.05],[35.6,0.0],[38.3,0.0],[38.55,0.1],[38.7,0.15],[38.85,0.05],[39.1,0.0],[40.6,0.0]];
const salinity_bathy_new = [[34.14,0.0],[34.35,0.02],[34.52,0.5],[34.62,3.5],[34.69,7.3],[34.76,3.2],[34.84,1.1],[34.95,0.4],[35.05,0.25],[35.2,0.05],[35.5,0.0],[38.4,0.0],[38.65,0.06],[38.85,0.04],[39.1,0.0],[40.6,0.0]];
const salinity_bathy_xticks = ['34','36','38','40'];
const salinity_bathy_yticks = ['0','2','4','6'];

const silicate_bathy_annotated = [[8.4,0.0063],[13,0.0078],[18.8,0.0083],[25,0.0077],[32,0.0062],[40,0.0046],[48,0.0038],[58,0.0035],[68,0.004],[78,0.0058],[88,0.0074],[98,0.0079],[108,0.0084],[116,0.0089],[124,0.0082],[132,0.0065],[140,0.0053],[148,0.0051],[155,0.0048],[163,0.0036],[172,0.002],[182,0.0008],[192,0.0001]];
const silicate_bathy_new = [[8.4,0.0035],[13,0.0055],[18,0.0044],[24,0.0047],[30,0.0037],[38,0.0025],[46,0.0021],[56,0.0022],[65,0.0033],[74,0.0062],[83,0.01],[92,0.0099],[100,0.0105],[108,0.0122],[116,0.0139],[123,0.0125],[130,0.009],[138,0.0055],[146,0.0039],[154,0.0038],[162,0.0028],[172,0.0012],[182,0.0003],[192,0.0]];
const silicate_bathy_xticks = ['0','50','100','150','200'];
const silicate_bathy_yticks = ['0.000','0.005','0.010'];

const temperature_bathy_annotated = [[-1.84,0.0],[-1.3,0.03],[-0.7,0.08],[-0.2,0.05],[0.3,0.1],[0.8,0.07],[1.3,0.2],[1.7,0.5],[2.0,0.665],[2.3,0.45],[2.6,0.18],[2.9,0.15],[3.25,0.26],[3.6,0.1],[4.0,0.03],[4.8,0.005],[6,0.0],[11.8,0.0],[12.4,0.025],[13,0.005],[14,0.0],[21.3,0.0]];
const temperature_bathy_new = [[-1.84,0.0],[-1.2,0.04],[-0.6,0.1],[0.0,0.15],[0.5,0.12],[1.0,0.2],[1.5,0.55],[1.9,0.83],[2.2,0.55],[2.5,0.25],[2.9,0.1],[3.4,0.06],[4.0,0.02],[4.8,0.003],[6,0.0],[11.9,0.0],[12.5,0.015],[13.2,0.0],[21.3,0.0]];
const temperature_bathy_xticks = ['0','5','10','15','20'];
const temperature_bathy_yticks = ['0.0','0.2','0.4','0.6','0.8'];

// registry referencing the named arrays above: [annotated, new, x tick labels, y tick labels]
const panelArrays = {
  aou_surf:[aou_surf_annotated,aou_surf_new,aou_surf_xticks,aou_surf_yticks],
  bbp:[bbp_annotated,bbp_new,bbp_xticks,bbp_yticks],
  density_surf:[density_surf_annotated,density_surf_new,density_surf_xticks,density_surf_yticks],
  fmicro:[fmicro_annotated,fmicro_new,fmicro_xticks,fmicro_yticks],
  log_chl:[log_chl_annotated,log_chl_new,log_chl_xticks,log_chl_yticks],
  mld:[mld_annotated,mld_new,mld_xticks,mld_yticks],
  n_cline:[n_cline_annotated,n_cline_new,n_cline_xticks,n_cline_yticks],
  nitrate_surf:[nitrate_surf_annotated,nitrate_surf_new,nitrate_surf_xticks,nitrate_surf_yticks],
  npp:[npp_annotated,npp_new,npp_xticks,npp_yticks],
  oxygen_surf:[oxygen_surf_annotated,oxygen_surf_new,oxygen_surf_xticks,oxygen_surf_yticks],
  p_cline:[p_cline_annotated,p_cline_new,p_cline_xticks,p_cline_yticks],
  par:[par_annotated,par_new,par_xticks,par_yticks],
  phosphate_surf:[phosphate_surf_annotated,phosphate_surf_new,phosphate_surf_xticks,phosphate_surf_yticks],
  pic:[pic_annotated,pic_new,pic_xticks,pic_yticks],
  poc:[poc_annotated,poc_new,poc_xticks,poc_yticks],
  psd:[psd_annotated,psd_new,psd_xticks,psd_yticks],
  pycno:[pycno_annotated,pycno_new,pycno_xticks,pycno_yticks],
  s_cline:[s_cline_annotated,s_cline_new,s_cline_xticks,s_cline_yticks],
  salinity_surf:[salinity_surf_annotated,salinity_surf_new,salinity_surf_xticks,salinity_surf_yticks],
  silicate_surf:[silicate_surf_annotated,silicate_surf_new,silicate_surf_xticks,silicate_surf_yticks],
  temperature_surf:[temperature_surf_annotated,temperature_surf_new,temperature_surf_xticks,temperature_surf_yticks],
  thermo:[thermo_annotated,thermo_new,thermo_xticks,thermo_yticks],
  z_eu:[z_eu_annotated,z_eu_new,z_eu_xticks,z_eu_yticks],
  aou_epi:[aou_epi_annotated,aou_epi_new,aou_epi_xticks,aou_epi_yticks],
  density_epi:[density_epi_annotated,density_epi_new,density_epi_xticks,density_epi_yticks],
  nitrate_epi:[nitrate_epi_annotated,nitrate_epi_new,nitrate_epi_xticks,nitrate_epi_yticks],
  oxygen_epi:[oxygen_epi_annotated,oxygen_epi_new,oxygen_epi_xticks,oxygen_epi_yticks],
  phosphate_epi:[phosphate_epi_annotated,phosphate_epi_new,phosphate_epi_xticks,phosphate_epi_yticks],
  salinity_epi:[salinity_epi_annotated,salinity_epi_new,salinity_epi_xticks,salinity_epi_yticks],
  silicate_epi:[silicate_epi_annotated,silicate_epi_new,silicate_epi_xticks,silicate_epi_yticks],
  temperature_epi:[temperature_epi_annotated,temperature_epi_new,temperature_epi_xticks,temperature_epi_yticks],
  aou_meso:[aou_meso_annotated,aou_meso_new,aou_meso_xticks,aou_meso_yticks],
  density_meso:[density_meso_annotated,density_meso_new,density_meso_xticks,density_meso_yticks],
  nitrate_meso:[nitrate_meso_annotated,nitrate_meso_new,nitrate_meso_xticks,nitrate_meso_yticks],
  oxygen_meso:[oxygen_meso_annotated,oxygen_meso_new,oxygen_meso_xticks,oxygen_meso_yticks],
  phosphate_meso:[phosphate_meso_annotated,phosphate_meso_new,phosphate_meso_xticks,phosphate_meso_yticks],
  salinity_meso:[salinity_meso_annotated,salinity_meso_new,salinity_meso_xticks,salinity_meso_yticks],
  silicate_meso:[silicate_meso_annotated,silicate_meso_new,silicate_meso_xticks,silicate_meso_yticks],
  temperature_meso:[temperature_meso_annotated,temperature_meso_new,temperature_meso_xticks,temperature_meso_yticks],
  aou_bathy:[aou_bathy_annotated,aou_bathy_new,aou_bathy_xticks,aou_bathy_yticks],
  density_bathy:[density_bathy_annotated,density_bathy_new,density_bathy_xticks,density_bathy_yticks],
  nitrate_bathy:[nitrate_bathy_annotated,nitrate_bathy_new,nitrate_bathy_xticks,nitrate_bathy_yticks],
  oxygen_bathy:[oxygen_bathy_annotated,oxygen_bathy_new,oxygen_bathy_xticks,oxygen_bathy_yticks],
  phosphate_bathy:[phosphate_bathy_annotated,phosphate_bathy_new,phosphate_bathy_xticks,phosphate_bathy_yticks],
  salinity_bathy:[salinity_bathy_annotated,salinity_bathy_new,salinity_bathy_xticks,salinity_bathy_yticks],
  silicate_bathy:[silicate_bathy_annotated,silicate_bathy_new,silicate_bathy_xticks,silicate_bathy_yticks],
  temperature_bathy:[temperature_bathy_annotated,temperature_bathy_new,temperature_bathy_xticks,temperature_bathy_yticks]
};

// ---------------- LAYOUT (pixels) ----------------
const FONT = '"Liberation Sans", Arial, Helvetica, sans-serif';
const layout = [
  {letter:'a', letterY:46, densityY:603, vars:sectionA_vars,
   cols:[[205,262],[579,262],[936,260],[1303,260],[1659,260]],
   rows:[[67,82,260],[309,82,507],[558,82,760],[806,82,997],[1050,82,1236]]},
  {letter:'b', letterY:1311, densityY:1507, vars:sectionB_vars,
   cols:[[205,276],[563,274],[917,274],[1290,277],[1644,275]],
   rows:[[1331,99,1534],[1584,99,1775]]},
  {letter:'c', letterY:1852, densityY:2046, vars:sectionC_vars,
   cols:[[205,273],[559,269],[910,271],[1295,268],[1648,271]],
   rows:[[1870,100,2073],[2123,100,2327]]},
  {letter:'d', letterY:2402, densityY:2597, vars:sectionD_vars,
   cols:[[205,269],[577,265],[927,271],[1314,267],[1648,269]],
   rows:[[2422,98,2624],[2673,98,2879]]}
];

// ---------------- BUILD ----------------
function sameVal(a, b){ return Math.abs(a - b) <= 1e-9 * (Math.abs(a) + Math.abs(b) + 1e-12); }
function labelFormatter(vals, labels){
  return function(v){ for (let j = 0; j < vals.length; j++){ if (sameVal(vals[j], v)) return labels[j]; } return ''; };
}
function minorBreaks(majors, lo, hi){
  const step = majors[1] - majors[0];
  const start = majors[0] - step;
  const n = Math.round((majors[majors.length-1] + step - start) / (step / 2));
  const out = [];
  for (let k = 0; k <= n; k++){
    const v = start + k * step / 2;
    if (v >= lo && v <= hi && !majors.some(m => sameVal(m, v))) out.push(v);
  }
  return out;
}

const grids = [], xAxes = [], yAxes = [];
const series = [
  // empty series that only carry the legend keys
  {type:'scatter', name:'Annotated', xAxisIndex:0, yAxisIndex:0, data:[], silent:true},
  {type:'scatter', name:'New', xAxisIndex:0, yAxisIndex:0, data:[], silent:true}
];
const graphics = [];
const hidden = {show:false};

let gi = 0;
layout.forEach(function(sec){
  graphics.push({type:'text', x:25, y:sec.letterY, style:{text:sec.letter, fontSize:46, fontFamily:FONT, fill:'#000', align:'left', verticalAlign:'middle'}});
  graphics.push({type:'text', x:63, y:sec.densityY, rotation:Math.PI/2, style:{text:'Density', fontSize:36, fontFamily:FONT, fill:'#000', align:'center', verticalAlign:'middle'}});
  sec.vars.forEach(function(name, idx){
    const arrs = panelArrays[name];
    const ann = arrs[0], nw = arrs[1], xt = arrs[2], yt = arrs[3];
    const col = sec.cols[idx % 5], row = sec.rows[Math.floor(idx / 5)];
    const all = ann.concat(nw);
    const xs = all.map(p => p[0]), ys = all.map(p => p[1]);
    const xmin = Math.min.apply(null, xs), xmax = Math.max.apply(null, xs);
    const ymin = Math.min.apply(null, ys), ymax = Math.max.apply(null, ys);
    const xr = xmax - xmin, yr = ymax - ymin;
    const xlo = xmin - 0.05 * xr, xhi = xmax + 0.05 * xr;
    const ylo = ymin - 0.05 * yr, yhi = ymax + 0.05 * yr;
    const xv = xt.map(Number), yv = yt.map(Number);
    const bottom = row[0] + row[1];

    grids.push({left:col[0], top:row[0], width:col[1], height:row[1], containLabel:false, outerBoundsMode:'none'});
    const xIdx = xAxes.length, yIdx = yAxes.length;
    // major x axis: labels, title, major grid
    xAxes.push({type:'value', gridIndex:gi, position:'bottom', min:xlo, max:xhi,
      name:name, nameLocation:'middle', nameGap: row[2] - bottom - 17, nameMoveOverlap:false,
      nameTextStyle:{fontSize:30, color:'#000', fontFamily:FONT},
      axisLine:hidden, axisTick:{show:false, customValues:xv},
      axisLabel:{show:true, customValues:xv, rotate:45, margin:33, fontSize:29, color:'#4D4D4D', fontFamily:FONT,
                 showMinLabel:true, showMaxLabel:true, formatter:labelFormatter(xv, xt)},
      splitLine:{show:true, lineStyle:{color:'#EBEBEB', width:3}}});
    // minor x grid
    const xm = minorBreaks(xv, xlo, xhi);
    xAxes.push({type:'value', gridIndex:gi, position:'bottom', min:xlo, max:xhi,
      axisLine:hidden, axisTick:{show:false, customValues:xm}, axisLabel:{show:false, customValues:xm},
      splitLine:{show:true, lineStyle:{color:'#EBEBEB', width:1.5}}});
    // major y grid (labels drawn by the per-tick axes below)
    yAxes.push({type:'value', gridIndex:gi, position:'left', min:ylo, max:yhi,
      axisLine:hidden, axisTick:{show:false, customValues:yv}, axisLabel:{show:false, customValues:yv},
      splitLine:{show:true, lineStyle:{color:'#EBEBEB', width:3}}});
    // minor y grid
    const ym = minorBreaks(yv, ylo, yhi);
    yAxes.push({type:'value', gridIndex:gi, position:'left', min:ylo, max:yhi,
      axisLine:hidden, axisTick:{show:false, customValues:ym}, axisLabel:{show:false, customValues:ym},
      splitLine:{show:true, lineStyle:{color:'#EBEBEB', width:1.5}}});
    // one label axis per y tick, so overlapping labels (as in the reference) are all kept
    yv.forEach(function(v){
      yAxes.push({type:'value', gridIndex:gi, position:'left', offset:0, min:ylo, max:yhi,
        axisLine:hidden, axisTick:{show:false, customValues:[v]},
        axisLabel:{show:true, customValues:[v], margin:24, fontSize:29, color:'#4D4D4D', fontFamily:FONT,
                   showMinLabel:true, showMaxLabel:true, formatter:labelFormatter(yv, yt)},
        splitLine:hidden});
    });

    [ann, nw].forEach(function(curve, k){
      series.push({type:'line', name:seriesNames[k], xAxisIndex:xIdx, yAxisIndex:yIdx, data:curve,
        symbol:'none', showSymbol:false, smooth:0.3, silent:true, z:3 + k,
        lineStyle:{color:'#000000', width:2.4, type: k === 0 ? 'solid' : [7,6], cap:'butt'}});
    });
    gi++;
  });
});

graphics.push({type:'text', x:1966, y:1338, style:{text:'Data type', fontSize:36, fontFamily:FONT, fill:'#000', align:'left', verticalAlign:'middle'}});

const option = {
  backgroundColor:'#ffffff',
  animation:false,
  grid:grids,
  xAxis:xAxes,
  yAxis:yAxes,
  series:series,
  graphic:graphics,
  legend:{
    orient:'vertical', left:1967, top:1380, itemWidth:68, itemHeight:70, itemGap:1, padding:0,
    selectedMode:false,
    textStyle:{fontSize:30, color:'#000', fontFamily:FONT, padding:[0,0,0,19]},
    data:[
      {name:'Annotated', icon:'rect', itemStyle:{color:'rgba(0,0,0,0)', borderColor:'#000', borderWidth:2.5, borderType:'solid'}},
      {name:'New', icon:'rect', itemStyle:{color:'rgba(0,0,0,0)', borderColor:'#000', borderWidth:2.5, borderType:[6,4]}}
    ]
  }
};

const chart = echarts.init(document.getElementById('chart'), null, {renderer:'canvas', width:2220, height:2952});
chart.setOption(option);
</script>
</body>
</html>
